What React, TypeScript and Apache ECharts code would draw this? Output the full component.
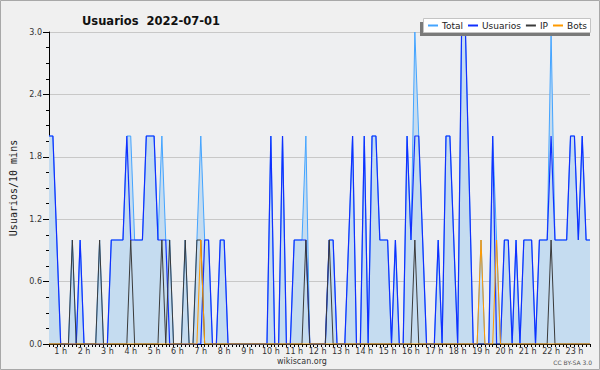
import React, { useEffect, useRef } from 'react';
import * as echarts from 'echarts';

// Hour labels placed under the x axis (one every 6 ten-minute slots)
const hourLabels = [
  '1 h', '2 h', '3 h', '4 h', '5 h', '6 h', '7 h', '8 h', '9 h', '10 h', '11 h', '12 h',
  '13 h', '14 h', '15 h', '16 h', '17 h', '18 h', '19 h', '20 h', '21 h', '22 h', '23 h',
];

// 10-minute slots (140 points)
const totalValues = [
  2, 2, 1, 0, 0, 0, 1, 0, 1, 0,
  0, 0, 0, 1, 0, 0, 1, 1, 1, 1,
  2, 2, 1, 1, 1, 2, 2, 2, 1, 2,
  1, 1, 0, 0, 0, 1, 0, 0, 1, 2,
  1, 1, 0, 0, 1, 1, 0, 0, 0, 0,
  0, 0, 0, 0, 0, 0, 0, 2, 0, 0,
  2, 0, 0, 1, 1, 1, 2, 0, 0, 0,
  0, 0, 1, 1, 0, 0, 0, 1, 2, 0,
  0, 2, 0, 2, 2, 1, 1, 1, 0, 1,
  0, 0, 2, 1, 3, 2, 1, 0, 0, 0,
  1, 0, 2, 2, 1, 0, 3, 3, 1.5, 0,
  0, 1, 0, 0, 2, 1, 0, 1, 1, 0,
  1, 0, 1, 1, 1, 0, 1, 1, 1, 3,
  1, 1, 1, 1, 2, 2, 1, 2, 1, 1,
];

const usuariosValues = [
  2, 2, 1, 0, 0, 0, 0, 0, 1, 0,
  0, 0, 0, 0, 0, 0, 1, 1, 1, 1,
  2, 1, 1, 1, 1, 2, 2, 2, 1, 1,
  1, 0, 0, 0, 0, 0, 0, 0, 0, 0,
  1, 1, 0, 0, 1, 1, 0, 0, 0, 0,
  0, 0, 0, 0, 0, 0, 0, 2, 0, 0,
  2, 0, 0, 1, 1, 1, 1, 0, 0, 0,
  0, 0, 1, 1, 0, 0, 0, 1, 2, 0,
  0, 2, 0, 2, 2, 1, 1, 1, 0, 1,
  0, 0, 2, 1, 2, 2, 1, 0, 0, 0,
  1, 0, 2, 2, 1, 0, 3, 3, 1.5, 0,
  0, 0, 0, 0, 2, 0, 0, 1, 1, 0,
  1, 0, 1, 1, 1, 0, 1, 1, 1, 2,
  1, 1, 1, 1, 2, 2, 1, 2, 1, 1,
];

const ipValues = [
  0, 0, 0, 0, 0, 0, 1, 0, 0, 0,
  0, 0, 0, 1, 0, 0, 0, 0, 0, 0,
  0, 1, 0, 0, 0, 0, 0, 0, 0, 1,
  0, 1, 0, 0, 0, 1, 0, 0, 1, 1,
  0, 0, 0, 0, 0, 0, 0, 0, 0, 0,
  0, 0, 0, 0, 0, 0, 0, 0, 0, 0,
  0, 0, 0, 0, 0, 0, 1, 0, 0, 0,
  0, 0, 1, 0, 0, 0, 0, 0, 0, 0,
  0, 0, 0, 0, 0, 0, 0, 0, 0, 0,
  0, 0, 0, 0, 1, 0, 0, 0, 0, 0,
  0, 0, 0, 0, 0, 0, 0, 0, 0, 0,
  0, 0, 0, 0, 0, 0, 0, 0, 0, 0,
  0, 0, 0, 0, 0, 0, 0, 0, 0, 1,
  0, 0, 0, 0, 0, 0, 0, 0, 0, 0,
];

const botsValues = [
  0, 0, 0, 0, 0, 0, 0, 0, 0, 0,
  0, 0, 0, 0, 0, 0, 0, 0, 0, 0,
  0, 0, 0, 0, 0, 0, 0, 0, 0, 0,
  0, 0, 0, 0, 0, 0, 0, 0, 0, 1,
  0, 0, 0, 0, 0, 0, 0, 0, 0, 0,
  0, 0, 0, 0, 0, 0, 0, 0, 0, 0,
  0, 0, 0, 0, 0, 0, 0, 0, 0, 0,
  0, 0, 0, 0, 0, 0, 0, 0, 0, 0,
  0, 0, 0, 0, 0, 0, 0, 0, 0, 0,
  0, 0, 0, 0, 0, 0, 0, 0, 0, 0,
  0, 0, 0, 0, 0, 0, 0, 0, 0, 0,
  0, 1, 0, 0, 0, 1, 0, 0, 0, 0,
  0, 0, 0, 0, 0, 0, 0, 0, 0, 0,
  0, 0, 0, 0, 0, 0, 0, 0, 0, 0,
];

const seriesNames = ['Total', 'Usuarios', 'IP', 'Bots'];
const seriesColors = ['#44a4ff', '#1030ff', '#3a3a3a', '#ff9a00'];
const titleText = 'Usuarios  2022-07-01';
const yAxisName = 'Usuarios/10 mins';

const FONT = '"DejaVu Sans", Verdana, sans-serif';

const categories = totalValues.map((_, i) =>
  i % 6 === 3 && hourLabels[(i - 3) / 6] !== undefined ? hourLabels[(i - 3) / 6] : ''
);

export default function App() {
  const ref = useRef<HTMLDivElement>(null);
  useEffect(() => {
    if (!ref.current) return;
    const chart = echarts.init(ref.current, null, { renderer: 'svg' });
    const lineSeries = (idx: number, data: number[], width: number, z: number, extra: any = {}) => ({
      name: seriesNames[idx],
      type: 'line',
      data,
      symbol: 'none',
      showSymbol: false,
      z,
      lineStyle: { color: seriesColors[idx], width },
      itemStyle: { color: seriesColors[idx] },
      emphasis: { disabled: true },
      ...extra,
    });
    chart.setOption({
      animation: false,
      backgroundColor: '#f0f0f0',
      title: {
        text: titleText,
        left: 77,
        top: 10,
        textStyle: { fontFamily: FONT, fontSize: 11.5, fontWeight: 'bold', color: '#111' },
      },
      legend: {
        left: 428,
        top: 21,
        padding: 0,
        itemWidth: 10,
        itemHeight: 2,
        itemGap: 5,
        z: 20,
        data: seriesNames.map((name, i) => ({
          name,
          icon: 'rect',
          itemStyle: { color: seriesColors[i], borderWidth: 0, opacity: 1 },
        })),
        lineStyle: { width: 0, opacity: 0 },
        textStyle: { fontFamily: FONT, fontSize: 9, color: '#222', padding: [0, 0, 0, -1] },
      },
      grid: {
        left: 47,
        top: 32,
        width: 543,
        height: 312,
        show: true,
        backgroundColor: '#eeeff1',
        borderWidth: 0,
      },
      xAxis: {
        type: 'category',
        data: categories,
        boundaryGap: false,
        axisLine: { lineStyle: { color: '#000', width: 1 } },
        axisTick: { interval: 0, length: 3, lineStyle: { color: '#000' } },
        axisLabel: { interval: 0, fontFamily: FONT, fontSize: 8, color: '#333', margin: 3 },
        splitLine: { show: false },
      },
      yAxis: {
        type: 'value',
        min: 0,
        max: 3,
        interval: 0.6,
        name: yAxisName,
        nameLocation: 'middle',
        nameGap: 31,
        nameTextStyle: { fontFamily: '"DejaVu Sans Mono", monospace', fontSize: 10, color: '#222' },
        axisLine: { show: true, lineStyle: { color: '#000', width: 1 } },
        axisTick: { show: true, length: 6, lineStyle: { color: '#000' } },
        minorTick: { show: true, splitNumber: 4, length: 3, lineStyle: { color: '#000' } },
        splitLine: { show: true, lineStyle: { color: '#c8c8c8', width: 1 } },
        axisLabel: {
          fontFamily: FONT,
          fontSize: 8,
          color: '#333',
          margin: 7,
          formatter: (v: number) => v.toFixed(1),
        },
      },
      series: [
        lineSeries(0, totalValues, 1, 2, {
          areaStyle: { color: '#c5dcf0', opacity: 1 },
        }),
        lineSeries(1, usuariosValues, 1.2, 3),
        lineSeries(2, ipValues, 1, 4),
        lineSeries(3, botsValues, 1, 5),
      ],
      graphic: [
        {
          type: 'rect',
          z: 0,
          silent: true,
          shape: { x: 0.5, y: 0.5, width: 599, height: 369 },
          style: { fill: 'none', stroke: '#a8a8a8', lineWidth: 1 },
        },
        {
          type: 'rect',
          z: 10,
          silent: true,
          shape: { x: 420, y: 22, width: 170, height: 14 },
          style: { fill: '#7a7a7a' },
        },
        {
          type: 'rect',
          z: 11,
          silent: true,
          shape: { x: 423.5, y: 18.5, width: 167, height: 14 },
          style: { fill: '#ffffff', stroke: '#c4c4c4', lineWidth: 1 },
        },
        {
          type: 'text',
          z: 11,
          silent: true,
          style: {
            x: 302,
            y: 361,
            text: 'wikiscan.org',
            align: 'center',
            verticalAlign: 'middle',
            fontFamily: FONT,
            fontSize: 8,
            fill: '#333',
          },
        },
        {
          type: 'text',
          z: 11,
          silent: true,
          style: {
            x: 592,
            y: 362,
            text: 'CC BY-SA 3.0',
            align: 'right',
            verticalAlign: 'middle',
            fontFamily: FONT,
            fontSize: 6,
            fill: '#555',
          },
        },
      ],
    });
    return () => chart.dispose();
  }, []);
  return (
    <div
      ref={ref}
      style={{ position: 'fixed', left: 0, top: 0, width: 600, height: 370, background: '#f0f0f0' }}
    />
  );
}
